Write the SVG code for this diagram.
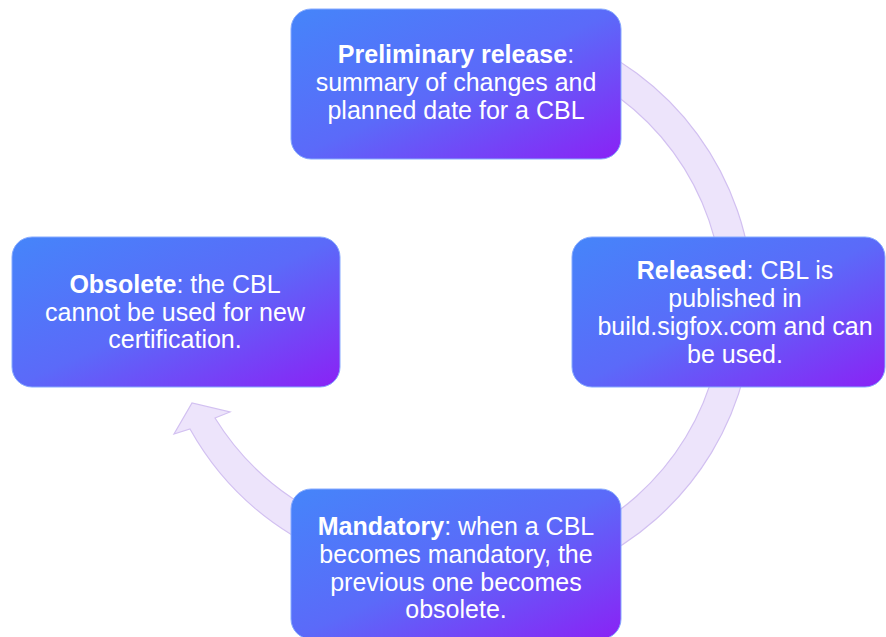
<svg xmlns="http://www.w3.org/2000/svg" width="886" height="637" viewBox="0 0 886 637">
<defs>
<linearGradient id="g" x1="0" y1="0" x2="1" y2="1">
<stop offset="0" stop-color="#4585fa"/>
<stop offset="0.5" stop-color="#5b6af9"/>
<stop offset="1" stop-color="#8a22f5"/>
</linearGradient>
<style>
.box{fill:url(#g);stroke:#86aaff;stroke-width:1}
.band{fill:#ede4fb;stroke:#d2c0f1;stroke-width:1.2}
.t{font-family:"Liberation Sans",Arial,sans-serif;font-size:25px;fill:#ffffff;text-anchor:middle}
.b{font-weight:bold}
</style>
</defs>
<rect width="886" height="637" fill="#ffffff"/>
<g id="connectors">
<path class="band" d="M 564.2 34.3 A 287 287 0 0 1 587.3 564.1 L 574.6 536.9 A 257 257 0 0 0 553.9 62.5 Z"/>
<path class="band" d="M 330 525 L 292 498 A 262 262 0 0 1 215 418 L 230 412 L 192 403 L 174 434 L 190 429 A 290 290 0 0 0 292 535 L 330 560 Z"/>
</g>
<g id="preliminary">
<rect class="box" x="291" y="9" width="330" height="150" rx="20"/>
<text class="t" x="456" y="63"><tspan class="b">Preliminary release</tspan>:</text>
<text class="t" x="456" y="91">summary of changes and</text>
<text class="t" x="456" y="119">planned date for a CBL</text>
</g>
<g id="released">
<rect class="box" x="572" y="237" width="313" height="150" rx="20"/>
<text class="t" x="735" y="279"><tspan class="b">Released</tspan>: CBL is</text>
<text class="t" x="735" y="307">published in</text>
<text class="t" x="735" y="335">build.sigfox.com and can</text>
<text class="t" x="735" y="363">be used.</text>
</g>
<g id="obsolete">
<rect class="box" x="12" y="237" width="328" height="150" rx="20"/>
<text class="t" x="175" y="293"><tspan class="b">Obsolete</tspan>: the CBL</text>
<text class="t" x="175" y="321">cannot be used for new</text>
<text class="t" x="175" y="348">certification.</text>
</g>
<g id="mandatory">
<rect class="box" x="291" y="489" width="330" height="150" rx="20"/>
<text class="t" x="456" y="535"><tspan class="b">Mandatory</tspan>: when a CBL</text>
<text class="t" x="456" y="563">becomes mandatory, the</text>
<text class="t" x="456" y="591">previous one becomes</text>
<text class="t" x="456" y="618">obsolete.</text>
</g>
</svg>
